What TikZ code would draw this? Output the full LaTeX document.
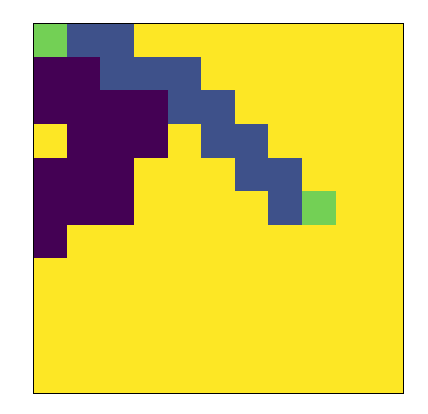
\documentclass[tikz,border=0pt]{standalone}
\usepackage{tikz}
\definecolor{vpurple}{HTML}{440154}
\definecolor{vblue}{HTML}{3E518A}
\definecolor{vgreen}{HTML}{73D055}
\definecolor{vyellow}{HTML}{FDE725}
\newcommand{\cellsz}{33.636}

\begin{document}
\begin{tikzpicture}[
    x=1pt, y=-1pt,
    frame/.style={draw=black, line width=0.8pt},
]
\useasboundingbox (0,0) rectangle (428,414);
% image grid, 11 x 11 cells
\begin{scope}[shift={(33,23)}]
  \fill[vyellow] (0,0) rectangle (370,370);
  \foreach \r/\a/\b/\k in {0/0/1/vgreen, 0/1/3/vblue,
                           1/0/2/vpurple, 1/2/5/vblue,
                           2/0/4/vpurple, 2/4/6/vblue,
                           3/1/4/vpurple, 3/5/7/vblue,
                           4/0/3/vpurple, 4/6/8/vblue,
                           5/0/3/vpurple, 5/7/8/vblue, 5/8/9/vgreen,
                           6/0/1/vpurple}
    \fill[\k] (\a*\cellsz,\r*\cellsz) rectangle (\b*\cellsz,\r*\cellsz+\cellsz);
  \draw[frame] (0,0) rectangle (370,370);
\end{scope}
\end{tikzpicture}
\end{document}
